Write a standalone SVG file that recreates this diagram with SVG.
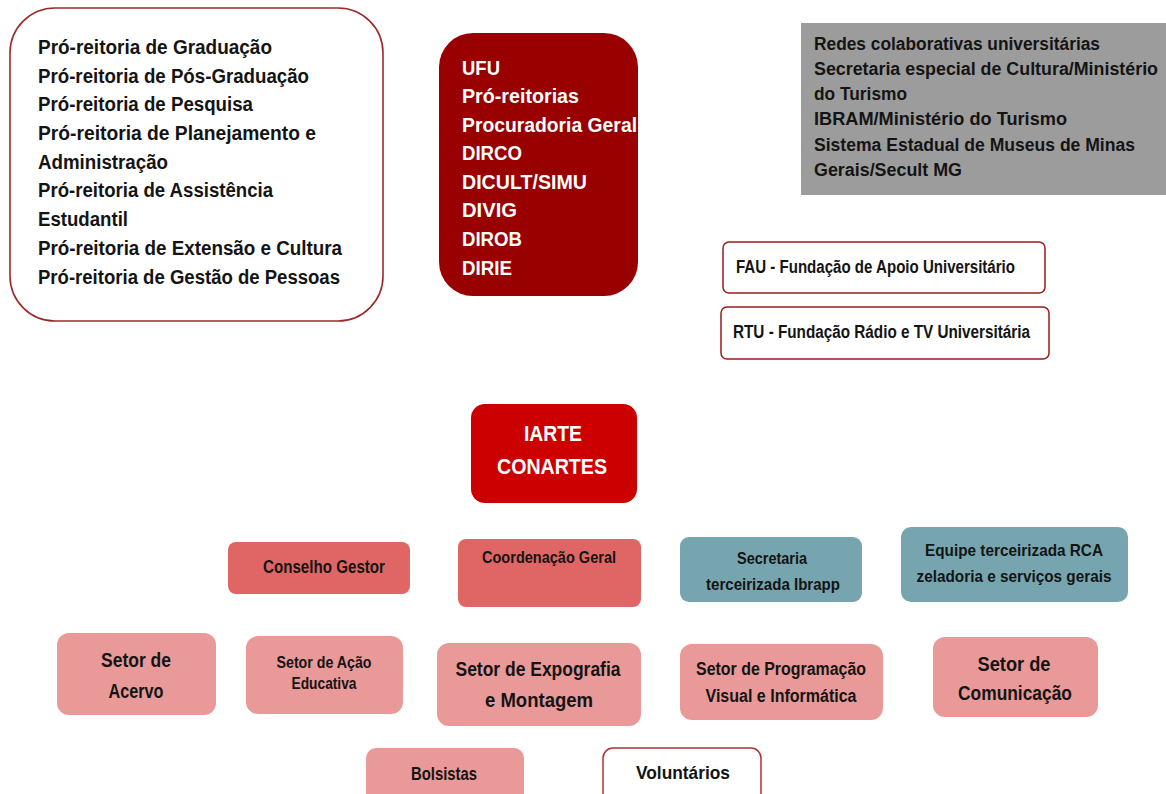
<svg xmlns="http://www.w3.org/2000/svg" width="1166" height="794" viewBox="0 0 1166 794">
<style>
text{font-family:"Liberation Sans",Arial,sans-serif;font-weight:bold;}
.dk{fill:#141414;}
.wh{fill:#ffffff;}
.c{text-anchor:middle;}
.pink{fill:#ea9999;}
.red2{fill:#e06666;}
.teal{fill:#76a5af;}
</style>
<rect width="1166" height="794" fill="#ffffff"/>
<g id="connectors"></g>

<g id="pro-reitorias">
<rect x="10" y="8" width="373" height="313" rx="45" fill="#ffffff" stroke="#9c2a2a" stroke-width="1.6"/>
<g class="dk" font-size="20">
<text x="38" y="54" textLength="234" lengthAdjust="spacingAndGlyphs">Pró-reitoria de Graduação</text>
<text x="38" y="83" textLength="271" lengthAdjust="spacingAndGlyphs">Pró-reitoria de Pós-Graduação</text>
<text x="38" y="111" textLength="215" lengthAdjust="spacingAndGlyphs">Pró-reitoria de Pesquisa</text>
<text x="38" y="140" textLength="278" lengthAdjust="spacingAndGlyphs">Pró-reitoria de Planejamento e</text>
<text x="38" y="169" textLength="130" lengthAdjust="spacingAndGlyphs">Administração</text>
<text x="38" y="197" textLength="235" lengthAdjust="spacingAndGlyphs">Pró-reitoria de Assistência</text>
<text x="38" y="226" textLength="90" lengthAdjust="spacingAndGlyphs">Estudantil</text>
<text x="38" y="255" textLength="304" lengthAdjust="spacingAndGlyphs">Pró-reitoria de Extensão e Cultura</text>
<text x="38" y="284" textLength="302" lengthAdjust="spacingAndGlyphs">Pró-reitoria de Gestão de Pessoas</text>
</g>
</g>

<g id="ufu">
<rect x="439" y="33" width="199" height="263" rx="34" fill="#990000"/>
<g class="wh" font-size="19.5">
<text x="462" y="75" textLength="38" lengthAdjust="spacingAndGlyphs">UFU</text>
<text x="462" y="103" textLength="117" lengthAdjust="spacingAndGlyphs">Pró-reitorias</text>
<text x="462" y="132" textLength="175" lengthAdjust="spacingAndGlyphs">Procuradoria Geral</text>
<text x="462" y="160" textLength="60" lengthAdjust="spacingAndGlyphs">DIRCO</text>
<text x="462" y="189" textLength="125" lengthAdjust="spacingAndGlyphs">DICULT/SIMU</text>
<text x="462" y="217" textLength="55" lengthAdjust="spacingAndGlyphs">DIVIG</text>
<text x="462" y="246" textLength="60" lengthAdjust="spacingAndGlyphs">DIROB</text>
<text x="462" y="275" textLength="50" lengthAdjust="spacingAndGlyphs">DIRIE</text>
</g>
</g>

<g id="redes">
<rect x="801" y="23" width="365" height="172" fill="#9c9c9c"/>
<g class="dk" font-size="18">
<text x="814" y="50" textLength="286" lengthAdjust="spacingAndGlyphs">Redes colaborativas universitárias</text>
<text x="814" y="75" textLength="344" lengthAdjust="spacingAndGlyphs">Secretaria especial de Cultura/Ministério</text>
<text x="814" y="100" textLength="93" lengthAdjust="spacingAndGlyphs">do Turismo</text>
<text x="814" y="125" textLength="253" lengthAdjust="spacingAndGlyphs">IBRAM/Ministério do Turismo</text>
<text x="814" y="151" textLength="321" lengthAdjust="spacingAndGlyphs">Sistema Estadual de Museus de Minas</text>
<text x="814" y="176" textLength="148" lengthAdjust="spacingAndGlyphs">Gerais/Secult MG</text>
</g>
</g>

<g id="fau">
<rect x="723" y="242" width="322" height="51" rx="6" fill="#ffffff" stroke="#9b1c1c" stroke-width="1.5"/>
<text class="dk" x="736" y="273" font-size="18" textLength="279" lengthAdjust="spacingAndGlyphs">FAU - Fundação de Apoio Universitário</text>
</g>

<g id="rtu">
<rect x="721" y="307" width="328" height="52" rx="6" fill="#ffffff" stroke="#9b1c1c" stroke-width="1.5"/>
<text class="dk" x="733" y="338" font-size="18" textLength="297" lengthAdjust="spacingAndGlyphs">RTU - Fundação Rádio e TV Universitária</text>
</g>

<g id="iarte">
<rect x="471" y="404" width="166" height="99" rx="14" fill="#cc0000"/>
<text class="wh c" x="553" y="441" font-size="22" textLength="58" lengthAdjust="spacingAndGlyphs">IARTE</text>
<text class="wh c" x="552" y="474" font-size="22" textLength="110" lengthAdjust="spacingAndGlyphs">CONARTES</text>
</g>

<g id="conselho-gestor">
<rect class="red2" x="228" y="542" width="182" height="52" rx="8"/>
<text class="dk c" x="324" y="573" font-size="19" textLength="122" lengthAdjust="spacingAndGlyphs">Conselho Gestor</text>
</g>

<g id="coordenacao-geral">
<rect class="red2" x="458" y="539" width="183" height="68" rx="8"/>
<text class="dk c" x="549" y="563" font-size="16.5" textLength="134" lengthAdjust="spacingAndGlyphs">Coordenação Geral</text>
</g>

<g id="secretaria">
<rect class="teal" x="680" y="537" width="182" height="65" rx="9"/>
<text class="dk c" x="772" y="564" font-size="16.5" textLength="70" lengthAdjust="spacingAndGlyphs">Secretaria</text>
<text class="dk c" x="773" y="590" font-size="16.5" textLength="134" lengthAdjust="spacingAndGlyphs">terceirizada Ibrapp</text>
</g>

<g id="equipe">
<rect class="teal" x="901" y="527" width="227" height="75" rx="10"/>
<text class="dk c" x="1014" y="556" font-size="16.5" textLength="178" lengthAdjust="spacingAndGlyphs">Equipe terceirizada RCA</text>
<text class="dk c" x="1014" y="582" font-size="16.5" textLength="195" lengthAdjust="spacingAndGlyphs">zeladoria e serviços gerais</text>
</g>

<g id="setor-acervo">
<rect class="pink" x="57" y="633" width="159" height="82" rx="12"/>
<text class="dk c" x="136" y="667" font-size="20" textLength="70" lengthAdjust="spacingAndGlyphs">Setor de</text>
<text class="dk c" x="136" y="698" font-size="20" textLength="55" lengthAdjust="spacingAndGlyphs">Acervo</text>
</g>

<g id="setor-acao-educativa">
<rect class="pink" x="246" y="636" width="157" height="78" rx="12"/>
<text class="dk c" x="324" y="668" font-size="16" textLength="95" lengthAdjust="spacingAndGlyphs">Setor de Ação</text>
<text class="dk c" x="324" y="689" font-size="16" textLength="65" lengthAdjust="spacingAndGlyphs">Educativa</text>
</g>

<g id="setor-expografia">
<rect class="pink" x="437" y="643" width="204" height="83" rx="12"/>
<text class="dk c" x="538" y="676" font-size="21" textLength="165" lengthAdjust="spacingAndGlyphs">Setor de Expografia</text>
<text class="dk c" x="539" y="707" font-size="21" textLength="108" lengthAdjust="spacingAndGlyphs">e Montagem</text>
</g>

<g id="setor-programacao">
<rect class="pink" x="680" y="644" width="203" height="76" rx="12"/>
<text class="dk c" x="781" y="675" font-size="18" textLength="170" lengthAdjust="spacingAndGlyphs">Setor de Programação</text>
<text class="dk c" x="781" y="702" font-size="18" textLength="151" lengthAdjust="spacingAndGlyphs">Visual e Informática</text>
</g>

<g id="setor-comunicacao">
<rect class="pink" x="933" y="637" width="165" height="80" rx="12"/>
<text class="dk c" x="1014" y="671" font-size="20" textLength="73" lengthAdjust="spacingAndGlyphs">Setor de</text>
<text class="dk c" x="1015" y="700" font-size="20" textLength="114" lengthAdjust="spacingAndGlyphs">Comunicação</text>
</g>

<g id="bolsistas">
<rect class="pink" x="366" y="748" width="158" height="60" rx="10"/>
<text class="dk c" x="444" y="780" font-size="19" textLength="66" lengthAdjust="spacingAndGlyphs">Bolsistas</text>
</g>

<g id="voluntarios">
<rect x="603" y="748" width="158" height="60" rx="10" fill="#ffffff" stroke="#b03030" stroke-width="1.5"/>
<text class="dk c" x="683" y="779" font-size="18.5" textLength="94" lengthAdjust="spacingAndGlyphs">Voluntários</text>
</g>
</svg>
